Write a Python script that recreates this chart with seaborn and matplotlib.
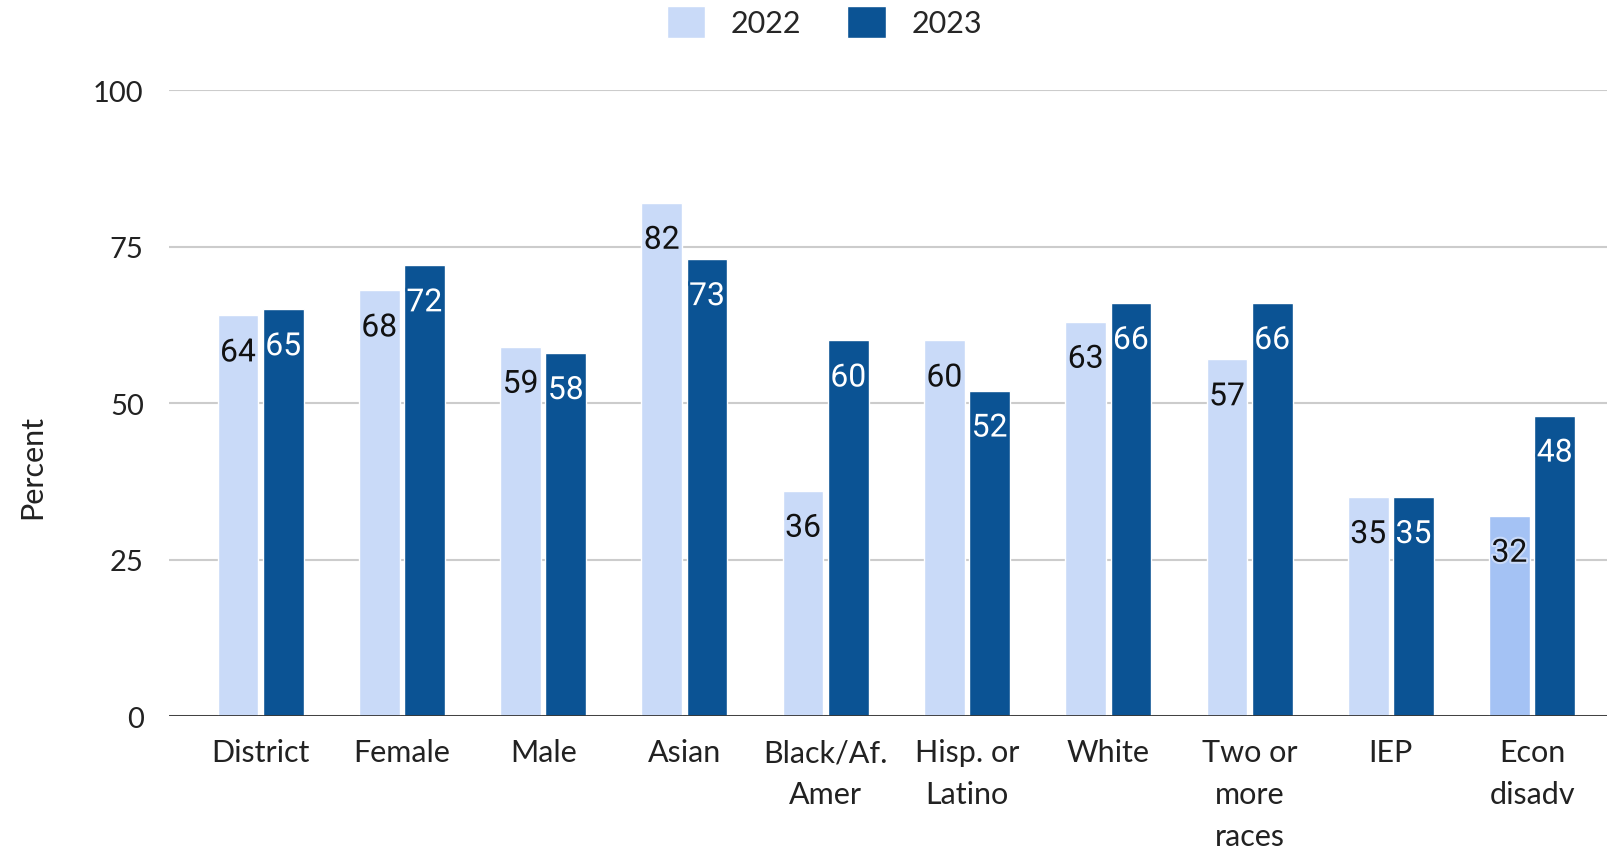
import numpy as np
import pandas as pd
import matplotlib
matplotlib.use("Agg")
import matplotlib.pyplot as plt
import matplotlib.patheffects as pe
import seaborn as sns

# Data
groups = ["District", "Female", "Male", "Asian", "Black/Af.\nAmer",
          "Hisp. or\nLatino", "White", "Two or\nmore\nraces", "IEP", "Econ\ndisadv"]
years = ["2022", "2023"]
values_2022 = [64, 68, 59, 82, 36, 60, 63, 57, 35, 32]
values_2023 = [65, 72, 58, 73, 60, 52, 66, 66, 35, 48]
y_ticks = [0, 25, 50, 75, 100]

light = "#c9daf8"
dark = "#0b5394"

df = pd.DataFrame({
    "group": groups * 2,
    "year": [years[0]] * len(groups) + [years[1]] * len(groups),
    "value": values_2022 + values_2023,
})

sns.set_theme(style="white")
plt.rcParams["font.family"] = ["Lato", "DejaVu Sans"]

fig = plt.figure(figsize=(16.07, 8.53), dpi=100)
ax = fig.add_axes([0.105, 0.1594, 0.895, 0.7339])

sns.barplot(data=df, x="group", y="value", hue="year", order=groups,
            hue_order=years, palette=[light, dark], width=0.64, gap=0.1,
            saturation=1, ax=ax, legend=True)

# last light bar is drawn a shade darker in the original
ax.containers[0][len(groups) - 1].set_facecolor("#a4c2f4")

for cont, txt_color, halo in zip(ax.containers, ["#111111", "white"], [light, dark]):
    for bar in cont:
        h = bar.get_height()
        ax.text(bar.get_x() + bar.get_width() / 2, h - 6, f"{h:.0f}",
                ha="center", va="center", fontsize=23, color=txt_color,
                family=["Roboto", "DejaVu Sans"],
                path_effects=[pe.withStroke(linewidth=3, foreground=halo)])

ax.set_ylim(0, 100)
ax.set_xlim(-0.65, len(groups) - 0.47)
ax.set_yticks(y_ticks)
ax.yaxis.grid(True, color="#cccccc", linewidth=1.5)
ax.set_axisbelow(True)
ax.axhline(0, color="#333333", linewidth=2, zorder=3)
for s in ax.spines.values():
    s.set_visible(False)

ax.tick_params(axis="x", length=0, pad=16, labelsize=22, colors="#222222")
ax.tick_params(axis="y", length=0, pad=18, labelsize=21, colors="#222222")
for lab in ax.get_xticklabels():
    lab.set_linespacing(1.6)
    lab.set_verticalalignment("top")

ax.set_xlabel("")
ax.set_ylabel("Percent", fontsize=22, color="#222222")
ax.yaxis.set_label_coords(-0.085, 0.40)

handles, labels = ax.get_legend_handles_labels()
ax.legend(handles, labels, loc="center", bbox_to_anchor=(0.456, 1.109),
          ncol=2, frameon=False, fontsize=22, handlelength=1.25, handleheight=1.25,
          columnspacing=1.5, handletextpad=0.85)

fig.savefig("out.png", dpi=100)
